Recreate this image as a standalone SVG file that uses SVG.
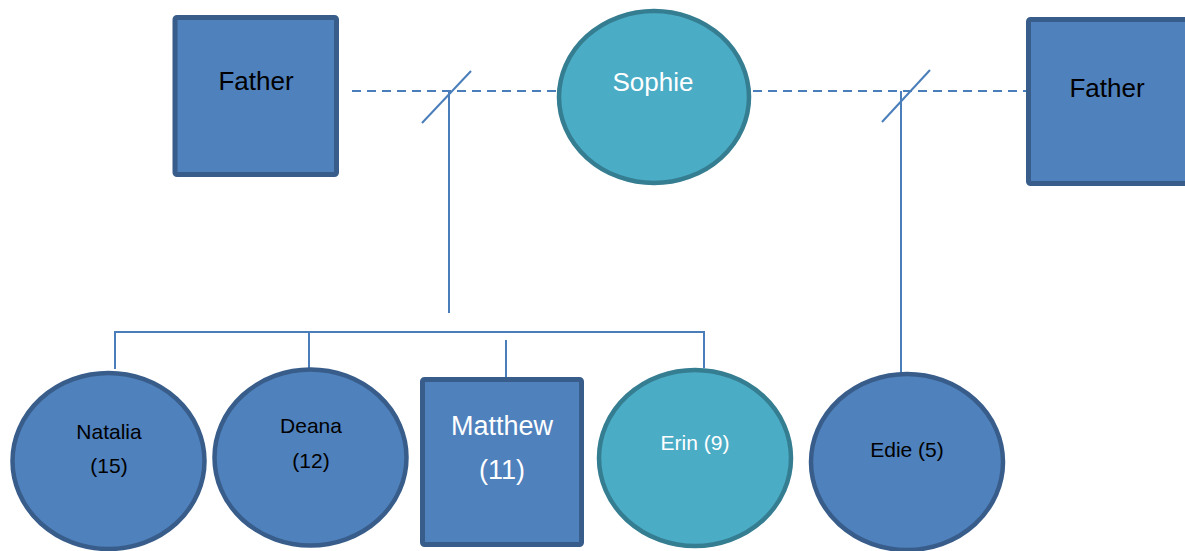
<svg xmlns="http://www.w3.org/2000/svg" width="1185" height="551" viewBox="0 0 1185 551">
  <style>
    .male { fill: #4F81BD; stroke: #385D8A; stroke-width: 5; }
    .female { fill: #4F81BD; stroke: #385D8A; stroke-width: 4.5; }
    .focus { fill: #4BACC6; stroke: #357D91; stroke-width: 4.5; }
    .link { fill: none; stroke: #4A7EBB; stroke-width: 2; }
    .dash { stroke-dasharray: 9 6; }
    text { font-family: "Liberation Sans", Arial, sans-serif; text-anchor: middle; }
    .dark { fill: #000000; }
    .light { fill: #FFFFFF; }
  </style>
  <rect width="1185" height="551" fill="#FFFFFF"/>

  <!-- relationship and descent lines -->
  <g id="connectors">
    <line class="link dash" x1="352" y1="91" x2="557" y2="91"/>
    <line class="link dash" x1="753" y1="91" x2="1026" y2="91"/>
    <line class="link" x1="422" y1="123" x2="471" y2="71"/>
    <line class="link" x1="882" y1="122" x2="930" y2="70"/>
    <line class="link" x1="449" y1="91" x2="449" y2="313"/>
    <line class="link" x1="901" y1="91" x2="901" y2="373"/>
    <polyline class="link" points="115,369 115,332 704,332 704,368"/>
    <line class="link" x1="309" y1="332" x2="309" y2="368"/>
    <line class="link" x1="506" y1="340" x2="506" y2="377"/>
  </g>

  <g id="father-left">
    <rect class="male" x="175" y="17.5" width="161.5" height="157" rx="2"/>
    <text class="dark" x="256" y="90" font-size="26">Father</text>
  </g>

  <g id="sophie">
    <ellipse class="focus" cx="654" cy="97" rx="95" ry="86"/>
    <text class="light" x="653" y="90.5" font-size="26">Sophie</text>
  </g>

  <g id="father-right">
    <rect class="male" x="1028.5" y="19.5" width="162" height="164" rx="2"/>
    <text class="dark" x="1107" y="97" font-size="26">Father</text>
  </g>

  <g id="natalia">
    <ellipse class="female" cx="108.5" cy="461" rx="96" ry="88"/>
    <text class="dark" x="109" y="439" font-size="21">Natalia</text>
    <text class="dark" x="109" y="473" font-size="21">(15)</text>
  </g>

  <g id="deana">
    <ellipse class="female" cx="310.5" cy="457.5" rx="96" ry="88"/>
    <text class="dark" x="311" y="433" font-size="21">Deana</text>
    <text class="dark" x="311" y="468" font-size="21">(12)</text>
  </g>

  <g id="matthew">
    <rect class="male" x="422.5" y="379.5" width="159" height="165" rx="2"/>
    <text class="light" x="502" y="435" font-size="27">Matthew</text>
    <text class="light" x="502" y="479" font-size="27">(11)</text>
  </g>

  <g id="erin">
    <ellipse class="focus" cx="695" cy="458" rx="96" ry="88"/>
    <text class="light" x="695" y="450" font-size="21">Erin (9)</text>
  </g>

  <g id="edie">
    <ellipse class="female" cx="907" cy="462" rx="96" ry="88"/>
    <text class="dark" x="907" y="457" font-size="21">Edie (5)</text>
  </g>
</svg>
